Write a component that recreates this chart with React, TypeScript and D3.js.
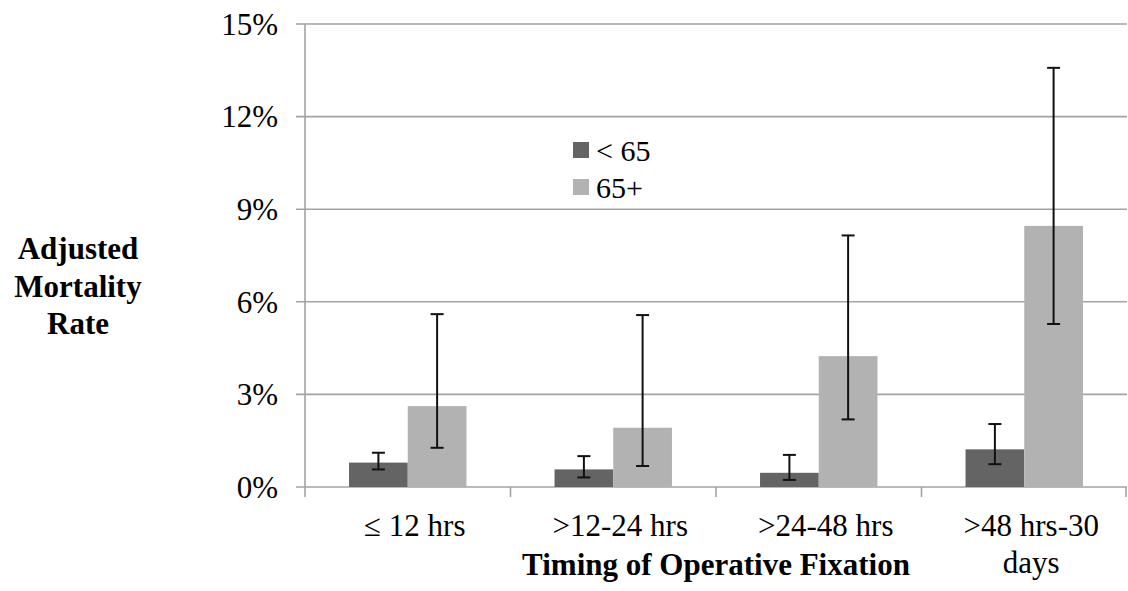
import React, { useEffect, useRef } from "react";
import * as d3 from "d3";

const categories = ["≤ 12 hrs", ">12-24 hrs", ">24-48 hrs", ">48 hrs-30 days"];
const seriesNames = ["< 65", "65+"];
const under65 = [0.79, 0.57, 0.46, 1.22];
const under65Low = [0.57, 0.31, 0.23, 0.74];
const under65High = [1.11, 1.0, 1.04, 2.04];
const over65 = [2.62, 1.92, 4.24, 8.46];
const over65Low = [1.27, 0.68, 2.19, 5.28];
const over65High = [5.6, 5.57, 8.15, 13.58];
const yTicks = [0, 3, 6, 9, 12, 15];

const COLORS = ["#646464", "#b2b2b2"];
const GRID = "#a3a3a3";
const FONT = "'Liberation Serif', 'Times New Roman', serif";

const MARGIN = { TOP: 24, RIGHT: 1, BOTTOM: 104, LEFT: 305 };
const WIDTH = 1128;
const HEIGHT = 591;

const App = () => {
  const svgRef = useRef<SVGSVGElement>(null);

  useEffect(() => {
    const svg = d3.select(svgRef.current);
    svg.selectAll("*").remove();

    const x = d3
      .scaleBand()
      .domain(categories)
      .range([MARGIN.LEFT, WIDTH - MARGIN.RIGHT]);
    const inner = d3
      .scaleBand()
      .domain(seriesNames)
      .range([0, x.bandwidth()])
      .paddingOuter(0.75)
      .paddingInner(0);
    const y = d3
      .scaleLinear()
      .domain([0, 15])
      .range([HEIGHT - MARGIN.BOTTOM, MARGIN.TOP]);

    // gridlines + y ticks
    svg
      .append("g")
      .selectAll("line")
      .data(yTicks)
      .join("line")
      .attr("x1", MARGIN.LEFT - 9)
      .attr("x2", WIDTH - MARGIN.RIGHT)
      .attr("y1", (d) => y(d))
      .attr("y2", (d) => y(d))
      .attr("stroke", GRID)
      .attr("stroke-width", 1.6);

    svg
      .append("line")
      .attr("x1", MARGIN.LEFT)
      .attr("x2", MARGIN.LEFT)
      .attr("y1", y(15))
      .attr("y2", y(0))
      .attr("stroke", GRID)
      .attr("stroke-width", 1.6);

    svg
      .append("g")
      .selectAll("text")
      .data(yTicks)
      .join("text")
      .attr("x", MARGIN.LEFT - 27)
      .attr("y", (d) => y(d))
      .attr("dy", "0.35em")
      .attr("text-anchor", "end")
      .attr("font-family", FONT)
      .attr("font-size", 31)
      .text((d) => `${d}%`);

    // x ticks
    const xEdges = categories.map((c) => x(c) as number).concat([WIDTH - MARGIN.RIGHT - 1]);
    svg
      .append("g")
      .selectAll("line")
      .data(xEdges)
      .join("line")
      .attr("x1", (d) => d)
      .attr("x2", (d) => d)
      .attr("y1", y(0))
      .attr("y2", y(0) + 10)
      .attr("stroke", GRID)
      .attr("stroke-width", 1.6);

    // bars
    const series = [
      { name: seriesNames[0], values: under65, low: under65Low, high: under65High },
      { name: seriesNames[1], values: over65, low: over65Low, high: over65High },
    ];

    series.forEach((s, si) => {
      const g = svg.append("g");
      g.selectAll("rect")
        .data(categories)
        .join("rect")
        .attr("x", (c) => (x(c) as number) + (inner(s.name) as number))
        .attr("width", inner.bandwidth())
        .attr("y", (c, i) => y(s.values[i]))
        .attr("height", (c, i) => y(0) - y(s.values[i]))
        .attr("fill", COLORS[si]);
    });

    // error bars
    series.forEach((s) => {
      const g = svg.append("g").attr("stroke", "#111").attr("stroke-width", 2);
      categories.forEach((c, i) => {
        const cx = (x(c) as number) + (inner(s.name) as number) + inner.bandwidth() / 2;
        g.append("line")
          .attr("x1", cx)
          .attr("x2", cx)
          .attr("y1", y(s.low[i]))
          .attr("y2", y(s.high[i]));
        [s.low[i], s.high[i]].forEach((v) => {
          g.append("line")
            .attr("x1", cx - 6.5)
            .attr("x2", cx + 6.5)
            .attr("y1", y(v))
            .attr("y2", y(v));
        });
      });
    });

    // x labels
    const xl = svg.append("g").attr("font-family", FONT).attr("font-size", 31);
    categories.forEach((c) => {
      const cx = (x(c) as number) + x.bandwidth() / 2 + 7;
      const lines = c === ">48 hrs-30 days" ? [">48 hrs-30", "days"] : [c];
      lines.forEach((ln, li) => {
        xl.append("text")
          .attr("x", cx)
          .attr("y", 536 + li * 37)
          .attr("text-anchor", "middle")
          .text(ln);
      });
    });

    // axis titles
    svg
      .append("text")
      .attr("x", (MARGIN.LEFT + WIDTH - MARGIN.RIGHT) / 2)
      .attr("y", 575)
      .attr("text-anchor", "middle")
      .attr("font-family", FONT)
      .attr("font-size", 31)
      .attr("font-weight", "bold")
      .text("Timing of Operative Fixation");

    const yTitle = ["Adjusted", "Mortality", "Rate"];
    svg
      .append("g")
      .selectAll("text")
      .data(yTitle)
      .join("text")
      .attr("x", 78)
      .attr("y", (d, i) => 259 + i * 37.5)
      .attr("text-anchor", "middle")
      .attr("font-family", FONT)
      .attr("font-size", 31)
      .attr("font-weight", "bold")
      .text((d) => d);

    // legend
    const legend = svg.append("g").attr("transform", "translate(573,142)");
    seriesNames.forEach((n, i) => {
      legend
        .append("rect")
        .attr("x", 0)
        .attr("y", i * 37)
        .attr("width", 16)
        .attr("height", 16)
        .attr("fill", COLORS[i]);
      legend
        .append("text")
        .attr("x", 23)
        .attr("y", i * 37 + 8)
        .attr("dy", "0.35em")
        .attr("font-family", FONT)
        .attr("font-size", 30)
        .text(n);
    });
  }, []);

  return (
    <svg
      ref={svgRef}
      width={WIDTH}
      height={HEIGHT}
      style={{ position: "absolute", left: 0, top: 0, background: "#fff" }}
    />
  );
};

export default App;
